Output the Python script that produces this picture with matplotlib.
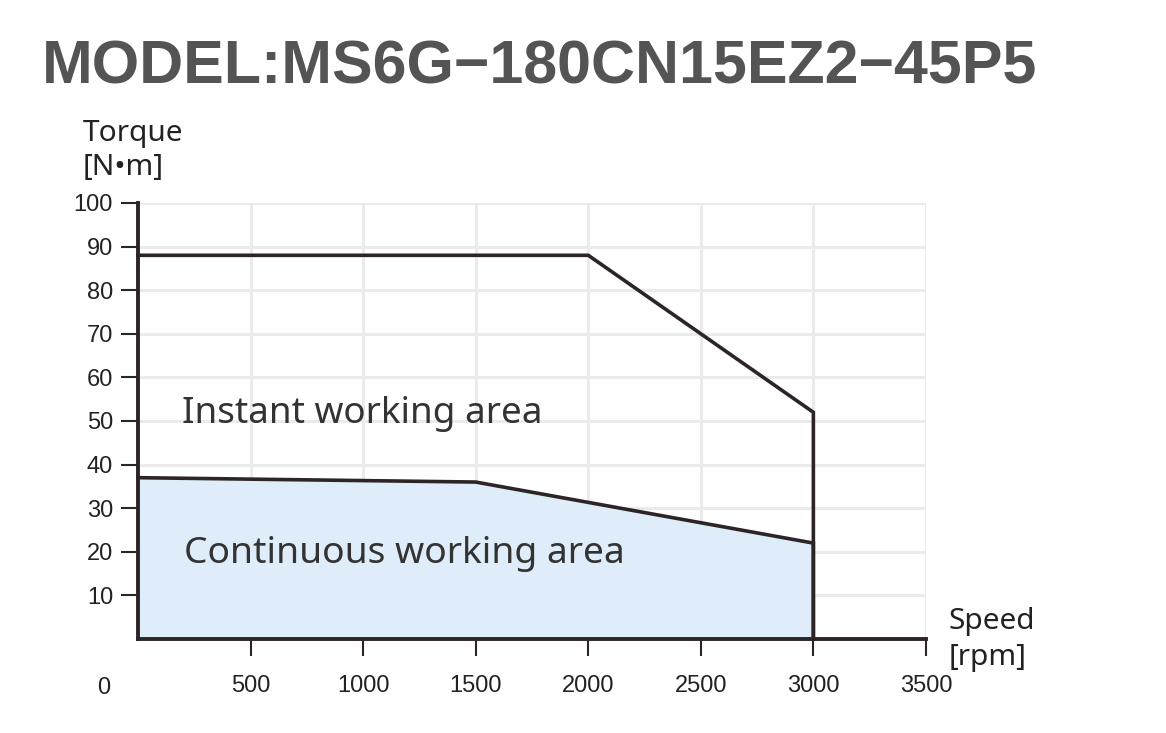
import matplotlib
matplotlib.use("Agg")
import matplotlib.pyplot as plt

# data
speed_instant = [0, 2000, 3000, 3000]
torque_instant = [88, 88, 52, 0]
speed_cont = [0, 1500, 3000, 3000]
torque_cont = [37, 36, 22, 0]
x_ticks = [500, 1000, 1500, 2000, 2500, 3000, 3500]
y_ticks = [10, 20, 30, 40, 50, 60, 70, 80, 90, 100]

line_c = "#2d2525"
label_font = ["Noto Sans", "DejaVu Sans"]

fig = plt.figure(figsize=(11.66, 7.33), dpi=100)
fig.text(0.036, 0.907, "MODEL:MS6G\u2212180CN15EZ2\u221245P5", fontsize=43.8,
         fontweight="bold", family="Liberation Sans", color="#545454",
         va="center", ha="left")

ax = fig.add_axes([0.1184, 0.1282, 0.6757, 0.5949])
ax.set_xlim(0, 3500)
ax.set_ylim(0, 100)

# grid
ax.set_xticks(x_ticks)
ax.set_yticks(y_ticks)
ax.grid(True, color="#ebebeb", linewidth=2.2, zorder=0)
ax.set_axisbelow(True)

# areas
ax.fill_between(speed_cont, torque_cont, 0, color="#deedf9", zorder=1, linewidth=0)
ax.plot(speed_instant, torque_instant, color=line_c, linewidth=2.6, zorder=3,
        solid_joinstyle="miter", clip_on=False)
ax.plot(speed_cont, torque_cont, color=line_c, linewidth=2.6, zorder=3,
        solid_joinstyle="miter", clip_on=False)

for s in ["top", "right"]:
    ax.spines[s].set_visible(False)
for s in ["left", "bottom"]:
    ax.spines[s].set_color(line_c)
    ax.spines[s].set_linewidth(2.8)
    ax.spines[s].set_zorder(4)

ax.tick_params(axis="x", direction="out", length=12, width=1.5, color=line_c,
               pad=14, labelsize=17, labelcolor="#222222")
ax.tick_params(axis="y", direction="out", length=12, width=1.5, color=line_c,
               pad=6, labelsize=17, labelcolor="#222222")
for lab in ax.get_xticklabels() + ax.get_yticklabels():
    lab.set_family("Liberation Sans")

ax.annotate("0", xy=(0, 0), xytext=(-25, -35), textcoords="offset points",
            ha="center", va="center", fontsize=17, family="Liberation Sans",
            color="#222222", annotation_clip=False)

# axis titles
fig.text(83 / 1166, 1 - 133 / 733, "Torque", fontsize=21.5, family=label_font,
         color="#222222", ha="left", va="center")
fig.text(83 / 1166, 1 - 168 / 733, "[N\u2022m]", fontsize=21.5, family=label_font,
         color="#222222", ha="left", va="center")
fig.text(949 / 1166, 1 - 622 / 733, "Speed", fontsize=21.5, family=label_font,
         color="#222222", ha="left", va="center")
fig.text(949 / 1166, 1 - 657 / 733, "[rpm]", fontsize=21.5, family=label_font,
         color="#222222", ha="left", va="center")

# area labels
ax.text(195, 51.6, "Instant working area", fontsize=26.5, family=label_font,
        fontweight="light", color="#333333", ha="left", va="center", zorder=5)
ax.text(203, 19.6, "Continuous working area", fontsize=26.8, family=label_font,
        fontweight="light", color="#333333", ha="left", va="center", zorder=5)

fig.savefig("out.png", dpi=100)
